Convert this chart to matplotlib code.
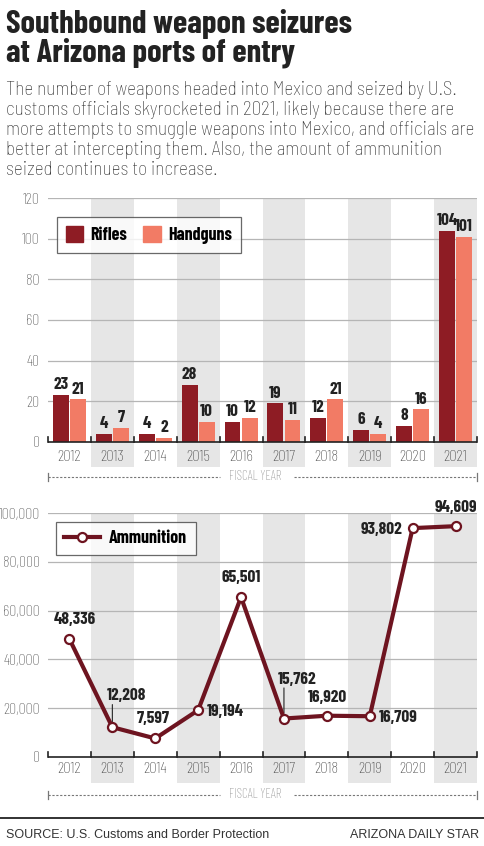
import matplotlib
matplotlib.use("Agg")
import matplotlib.pyplot as plt
from matplotlib.patches import Patch
from matplotlib.lines import Line2D
from matplotlib.ticker import FuncFormatter

# data
years = ["2012", "2013", "2014", "2015", "2016", "2017", "2018", "2019", "2020", "2021"]
rifles = [23, 4, 4, 28, 10, 19, 12, 6, 8, 104]
handguns = [21, 7, 2, 10, 12, 11, 21, 4, 16, 101]
ammo = [48336, 12208, 7597, 19194, 65501, 15762, 16920, 16709, 93802, 94609]

# label placement for the line labels: (dx px, dy px, ha, leader line)
ammo_lbl = [(5, 12, "center", False), (14, 24, "center", True), (-2, 12, "center", False),
            (9, 0, "left", False), (0, 12, "center", False), (13, 32, "center", True),
            (1, 11, "center", False), (9, 0, "left", False), (-10, 0, "right", False),
            (0, 11, "center", False)]

W, H = 484, 846
NARROW = ["Barlow Condensed", "DejaVu Sans"]
SEMI = ["Barlow Semi Condensed", "DejaVu Sans"]
WIDE = ["Liberation Sans", "DejaVu Sans"]
c_rifle = "#8e1c24"
c_hand = "#f27b65"
c_line = "#6e1420"
c_band = "#e6e6e6"
c_grid = "#b5b5b5"
c_tick = "#555555"

plt.rcParams["font.family"] = NARROW
plt.rcParams["font.stretch"] = "condensed"

fig = plt.figure(figsize=(W / 100, H / 100), dpi=100)


def px_axes(left, top, right, bottom):
    return fig.add_axes([left / W, 1 - bottom / H, (right - left) / W, (bottom - top) / H])


def fx(x):
    return x / W


def fy(y):
    return 1 - y / H


# header
fig.text(fx(6), fy(33), "Southbound weapon seizures", fontsize=23.5, fontweight="bold",
         color="#222222", va="baseline")
fig.text(fx(6), fy(61), "at Arizona ports of entry", fontsize=23.5, fontweight="bold",
         color="#222222", va="baseline")
sub = ["The number of weapons headed into Mexico and seized by U.S.",
       "customs officials skyrocketed in 2021, likely because there are",
       "more attempts to smuggle weapons into Mexico, and officials are",
       "better at intercepting them. Also, the amount of ammunition",
       "seized continues to increase."]
for i, s in enumerate(sub):
    fig.text(fx(6), fy(95 + 20 * i), s, fontsize=13.8, family=SEMI, fontweight="light",
             color="#333333", va="baseline")


def base_axes(ax, ymin, ymax, ticks, fmt, lab_off):
    ax.set_xlim(-0.5, 9.5)
    ax.set_ylim(ymin, ymax)
    for i in range(1, 10, 2):
        ax.axvspan(i - 0.5, i + 0.5, color=c_band, zorder=0, lw=0)
    for t in ticks[1:]:
        ax.axhline(t, color=c_grid, lw=0.9, zorder=1)
    ax.axhline(0, color="#222222", lw=1.2, zorder=4)
    for s in ax.spines.values():
        s.set_visible(False)
    ax.set_xticks([])
    ax.set_yticks(ticks)
    ax.yaxis.set_major_formatter(FuncFormatter(fmt))
    ax.tick_params(axis="y", length=0, pad=6, labelsize=11.5, labelcolor=c_tick)
    for lb in ax.get_yticklabels():
        lb.set_fontweight("light")
    # small boundary ticks on the baseline
    tr = ax.get_xaxis_transform()
    y0 = (0 - ymin) / (ymax - ymin)
    for b in range(11):
        ax.plot([b - 0.5, b - 0.5], [y0, y0 + 5 / ax.bbox.height], transform=tr,
                color="#222222", lw=1.2, zorder=4, clip_on=False)
    for i, yr in enumerate(years):
        ax.text(i, y0 - lab_off / ax.bbox.height, yr, transform=tr, ha="center", va="center",
                fontsize=11.8, fontweight="light", color="#444444")


def fiscal(y):
    ax_f = fig.add_axes([0, 0, 1, 1], facecolor="none")
    ax_f.set_xlim(0, W)
    ax_f.set_ylim(H, 0)
    ax_f.axis("off")
    ax_f.plot([48, 220], [y, y], color="#777777", lw=0.8, ls=(0, (2, 1.5)))
    ax_f.plot([294, 477], [y, y], color="#777777", lw=0.8, ls=(0, (2, 1.5)))
    ax_f.plot([48, 48], [y - 4, y + 4], color="#777777", lw=0.9)
    ax_f.plot([477, 477], [y - 4, y + 4], color="#777777", lw=0.9)
    ax_f.text(255, y, "FISCAL YEAR", ha="center", va="center", fontsize=9.5, fontweight="light",
              color="#888888")


# bar chart
ax1 = px_axes(48, 198, 477, 467)
base_axes(ax1, -12.3, 120, [0, 20, 40, 60, 80, 100, 120], lambda v, p: f"{int(v)}", 15)
x = list(range(len(years)))
bw = 0.37
ax1.bar([i - 0.2 for i in x], rifles, width=bw, color=c_rifle, zorder=3)
ax1.bar([i + 0.2 for i in x], handguns, width=bw, color=c_hand, zorder=3)
for i in x:
    ax1.annotate(str(rifles[i]), (i - 0.2, rifles[i]), xytext=(0, 2), textcoords="offset points",
                 ha="center", va="bottom", fontsize=12.5, fontweight="bold", color="#222222")
    ax1.annotate(str(handguns[i]), (i + 0.2, handguns[i]), xytext=(0, 2), textcoords="offset points",
                 ha="center", va="bottom", fontsize=12.5, fontweight="bold", color="#222222")
leg1 = ax1.legend(handles=[Patch(color=c_rifle, label="Rifles"), Patch(color=c_hand, label="Handguns")],
                  loc="upper left", bbox_to_anchor=(9 / 429, 1 - 19 / 269), ncol=2, frameon=True,
                  fancybox=False, edgecolor="#444444", handlelength=0.95, handleheight=0.95,
                  handletextpad=0.4, columnspacing=0.9, borderpad=0.5, borderaxespad=0,
                  prop={"family": NARROW, "weight": "bold", "size": 13})
leg1.get_frame().set_linewidth(0.9)
leg1.set_zorder(6)
fiscal(477)

# line chart
ax2 = px_axes(48, 513, 477, 783)
base_axes(ax2, -10660, 100000, [0, 20000, 40000, 60000, 80000, 100000], lambda v, p: f"{int(v):,}", 12)
ax2.plot(x, ammo, color=c_line, lw=3, marker="o", ms=6.5, mfc="white", mec=c_line, mew=1.6,
         zorder=5, clip_on=False)
for i, (dx, dy, ha, lead) in enumerate(ammo_lbl):
    va = "bottom" if dy > 0 else "center_baseline"
    ax2.annotate(f"{ammo[i]:,}", (i, ammo[i]), xytext=(dx * 0.72, dy * 0.72),
                 textcoords="offset points", ha=ha, va=va, fontsize=12.5, fontweight="bold",
                 color="#222222", zorder=6)
    if lead:
        ax2.annotate("", (i, ammo[i]), xytext=(0, dy * 0.72 - 1), textcoords="offset points",
                     arrowprops=dict(arrowstyle="-", color="#222222", lw=0.8, shrinkA=0, shrinkB=4))
leg2 = ax2.legend(handles=[Line2D([], [], color=c_line, lw=3, marker="o", ms=6.5, mfc="white",
                                  mec=c_line, mew=1.6, label="Ammunition")],
                  loc="upper left", bbox_to_anchor=(8 / 429, 1 - 9 / 270), frameon=True,
                  fancybox=False, edgecolor="#444444", handlelength=2.0, handletextpad=0.5,
                  borderpad=0.45, borderaxespad=0,
                  prop={"family": NARROW, "weight": "bold", "size": 13})
leg2.get_frame().set_linewidth(0.9)
leg2.set_zorder(6)
fiscal(795)

# footer
fig.add_artist(Line2D([0, 1], [fy(818), fy(818)], color="#222222", lw=1.3))
fig.text(fx(6), fy(838), "SOURCE: U.S. Customs and Border Protection", fontsize=9,
         family=WIDE, stretch="normal", color="#333333", va="baseline")
fig.text(fx(479), fy(838), "ARIZONA DAILY STAR", fontsize=9, ha="right",
         family=WIDE, stretch="normal", color="#333333", va="baseline")

fig.savefig("out.png", dpi=100)
